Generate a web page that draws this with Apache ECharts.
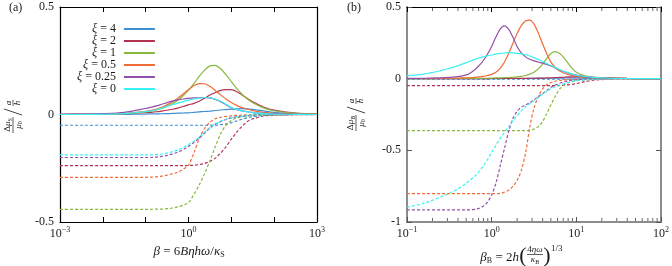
<!DOCTYPE html>
<html><head><meta charset="utf-8">
<script src="https://cdn.jsdelivr.net/npm/echarts@6/dist/echarts.min.js"></script>
<style>html,body{margin:0;padding:0;background:#fff}#c{width:672px;height:266px}</style>
</head><body><div id="c"></div>
<script>
// ---- legend / categories ----
const xiNames = ['ξ = 4', 'ξ = 2', 'ξ = 1', 'ξ = 0.5', 'ξ = 0.25', 'ξ = 0'];
const xiColors = ['#3f90d3', '#b3324f', '#88b83f', '#ef6c38', '#9350a9', '#38f2f2'];

// ---- panel (a): beta values ----
const betaS = [0.001,0.003162,0.01,0.03162,0.1,0.1334,0.1778,0.2371,0.3162,0.4217,0.5623,0.7499,1,1.334,1.778,2.371,3.162,4.217,5.623,7.499,10,13.34,17.78,23.71,31.62,56.23,100,316.2,1000];
// solid curves (a)
const aSolid_xi4   = [0.0001,0.0002,0.0003,0.0006,0.002,0.0025,0.003,0.0035,0.004,0.005,0.006,0.007,0.008,0.01,0.012,0.014,0.016,0.0185,0.021,0.023,0.025,0.0265,0.027,0.0265,0.024,0.017,0.01,0.003,0.001];
const aSolid_xi2   = [0.0003,0.0006,0.0015,0.0035,0.0083,0.0103,0.0128,0.016,0.0197,0.0245,0.03,0.037,0.045,0.052,0.062,0.076,0.091,0.102,0.112,0.116,0.1157,0.106,0.091,0.074,0.059,0.035,0.02,0.0063,0.002];
const aSolid_xi1   = [0.0001,0.0004,0.0012,0.0038,0.012,0.0161,0.0215,0.0286,0.038,0.0504,0.0666,0.0874,0.113,0.1437,0.177,0.2066,0.226,0.2288,0.213,0.1856,0.153,0.1213,0.094,0.0718,0.055,0.031,0.0175,0.0055,0.0017];
const aSolid_xi05  = [0.0001,0.0005,0.0015,0.0046,0.0145,0.0193,0.0256,0.034,0.0449,0.0587,0.0757,0.0955,0.116,0.134,0.144,0.143,0.131,0.112,0.0914,0.072,0.0557,0.0424,0.032,0.0244,0.0183,0.0103,0.0058,0.0018,0.0006];
const aSolid_xi025 = [0.001,0.002,0.004,0.01,0.028,0.034,0.04,0.0475,0.055,0.062,0.068,0.072,0.075,0.077,0.078,0.0785,0.077,0.07,0.06,0.046,0.031,0.023,0.017,0.013,0.009,0.005,0.003,0.001,0];
const aSolid_xi0   = [0,0,0.001,0.004,0.013,0.017,0.022,0.03,0.038,0.046,0.053,0.06,0.066,0.072,0.076,0.079,0.078,0.072,0.062,0.048,0.032,0.024,0.017,0.012,0.009,0.005,0.002,0.001,0];
// dashed curves (a)
const aDash_xi4   = [-0.05,-0.05,-0.05,-0.05,-0.05,-0.05,-0.05,-0.05,-0.05,-0.05,-0.05,-0.05,-0.05,-0.05,-0.05,-0.05,-0.05,-0.0495,-0.047,-0.044,-0.038,-0.03,-0.022,-0.015,-0.01,-0.004,-0.002,-0.001,0];
const aDash_xi2   = [-0.238,-0.238,-0.238,-0.238,-0.238,-0.238,-0.238,-0.238,-0.238,-0.238,-0.238,-0.238,-0.237,-0.236,-0.233,-0.228,-0.218,-0.203,-0.18,-0.15,-0.115,-0.082,-0.055,-0.033,-0.02,-0.007,-0.003,-0.001,0];
const aDash_xi1   = [-0.441,-0.441,-0.441,-0.441,-0.441,-0.441,-0.44,-0.44,-0.438,-0.435,-0.43,-0.422,-0.41,-0.372,-0.328,-0.275,-0.215,-0.15,-0.09,-0.05,-0.028,-0.016,-0.011,-0.007,-0.005,-0.002,-0.001,0,0];
const aDash_xi05  = [-0.292,-0.292,-0.292,-0.292,-0.292,-0.291,-0.29,-0.287,-0.282,-0.276,-0.268,-0.255,-0.235,-0.18,-0.112,-0.065,-0.036,-0.02,-0.013,-0.009,-0.006,-0.004,-0.003,-0.002,-0.001,0,0,0,0];
const aDash_xi025 = [-0.2,-0.2,-0.2,-0.2,-0.2,-0.2,-0.198,-0.195,-0.19,-0.183,-0.175,-0.163,-0.148,-0.13,-0.11,-0.086,-0.063,-0.045,-0.033,-0.023,-0.016,-0.011,-0.007,-0.005,-0.003,-0.001,0,0,0];
const aDash_xi0   = [-0.188,-0.188,-0.188,-0.188,-0.188,-0.188,-0.186,-0.184,-0.18,-0.173,-0.165,-0.154,-0.14,-0.124,-0.105,-0.082,-0.06,-0.044,-0.032,-0.022,-0.015,-0.01,-0.007,-0.005,-0.003,-0.001,0,0,0];

// ---- panel (b): beta_B values ----
const betaB = [0.1,0.1585,0.2512,0.3162,0.3981,0.5012,0.5623,0.631,0.7079,0.7943,0.8913,1,1.122,1.259,1.413,1.585,1.778,1.995,2.239,2.512,2.818,3.162,3.548,3.981,4.467,5.012,5.623,6.31,7.079,7.943,8.913,10,12.59,15.85,25.12,39.81,100];
// solid curves (b)
const bSolid_xi4   = [0,0,0,0,0,0,0,0,0,0,0,0,0,0,0.001,0.001,0.001,0.001,0.001,0.001,0.002,0.002,0.002,0.002,0.003,0.003,0.003,0.004,0.004,0.005,0.005,0.006,0.006,0.006,0.004,0.002,0];
const bSolid_xi2   = [0,0,0,0,0,0,0,0,0,0,0,0.001,0.001,0.001,0.001,0.001,0.002,0.002,0.002,0.002,0.003,0.003,0.004,0.004,0.005,0.006,0.007,0.009,0.01,0.012,0.013,0.014,0.013,0.01,0.005,0.002,0];
const bSolid_xi1   = [0,0,0.001,0.001,0.001,0.002,0.002,0.002,0.002,0.003,0.003,0.004,0.005,0.006,0.007,0.008,0.01,0.012,0.016,0.022,0.032,0.045,0.068,0.1,0.14,0.175,0.188,0.178,0.148,0.11,0.072,0.045,0.02,0.01,0.003,0.001,0];
const bSolid_xi05  = [0.001,0.001,0.002,0.003,0.004,0.006,0.007,0.009,0.012,0.016,0.022,0.03,0.045,0.072,0.115,0.175,0.245,0.315,0.37,0.402,0.408,0.38,0.32,0.245,0.175,0.115,0.078,0.055,0.04,0.03,0.023,0.018,0.01,0.006,0.002,0.001,0];
const bSolid_xi025 = [0.002,0.003,0.006,0.009,0.014,0.026,0.04,0.062,0.09,0.125,0.17,0.225,0.29,0.345,0.368,0.345,0.29,0.225,0.18,0.152,0.135,0.124,0.116,0.108,0.099,0.088,0.075,0.062,0.05,0.04,0.032,0.025,0.014,0.008,0.003,0.001,0];
const bSolid_xi0   = [0.021,0.032,0.056,0.072,0.09,0.112,0.123,0.135,0.144,0.152,0.159,0.165,0.171,0.176,0.179,0.181,0.18,0.177,0.173,0.167,0.158,0.147,0.134,0.12,0.106,0.092,0.078,0.064,0.052,0.042,0.032,0.024,0.015,0.009,0.003,0.001,0];
// dashed curves (b)
const bDash_xi4   = [-0.004,-0.004,-0.004,-0.004,-0.004,-0.004,-0.004,-0.004,-0.004,-0.004,-0.004,-0.004,-0.004,-0.004,-0.004,-0.004,-0.004,-0.004,-0.004,-0.004,-0.004,-0.004,-0.004,-0.004,-0.004,-0.004,-0.004,-0.004,-0.004,-0.004,-0.004,-0.003,-0.002,-0.001,0,0,0];
const bDash_xi2   = [-0.049,-0.049,-0.049,-0.049,-0.049,-0.049,-0.049,-0.049,-0.049,-0.049,-0.049,-0.049,-0.049,-0.049,-0.049,-0.049,-0.049,-0.049,-0.049,-0.049,-0.049,-0.049,-0.049,-0.049,-0.049,-0.049,-0.049,-0.048,-0.046,-0.043,-0.039,-0.034,-0.021,-0.011,-0.003,-0.001,0];
const bDash_xi1   = [-0.363,-0.363,-0.363,-0.363,-0.363,-0.363,-0.363,-0.363,-0.363,-0.363,-0.363,-0.363,-0.363,-0.363,-0.363,-0.363,-0.363,-0.363,-0.363,-0.363,-0.36,-0.352,-0.335,-0.3,-0.245,-0.182,-0.125,-0.075,-0.047,-0.03,-0.02,-0.013,-0.006,-0.003,-0.001,0,0];
const bDash_xi05  = [-0.802,-0.802,-0.802,-0.802,-0.802,-0.802,-0.802,-0.802,-0.802,-0.802,-0.802,-0.802,-0.802,-0.8,-0.792,-0.778,-0.752,-0.71,-0.64,-0.52,-0.34,-0.205,-0.126,-0.072,-0.042,-0.027,-0.018,-0.012,-0.009,-0.006,-0.005,-0.003,-0.002,-0.001,0,0,0];
const bDash_xi025 = [-0.916,-0.916,-0.916,-0.916,-0.916,-0.916,-0.915,-0.912,-0.905,-0.89,-0.862,-0.81,-0.73,-0.61,-0.49,-0.37,-0.28,-0.228,-0.2,-0.183,-0.168,-0.148,-0.126,-0.105,-0.083,-0.06,-0.045,-0.032,-0.023,-0.016,-0.011,-0.008,-0.004,-0.002,-0.001,0,0];
const bDash_xi0   = [-0.897,-0.87,-0.825,-0.8,-0.77,-0.73,-0.706,-0.68,-0.648,-0.61,-0.565,-0.515,-0.465,-0.418,-0.375,-0.335,-0.295,-0.258,-0.225,-0.196,-0.175,-0.155,-0.132,-0.108,-0.088,-0.07,-0.056,-0.045,-0.035,-0.027,-0.02,-0.015,-0.008,-0.004,-0.001,0,0];

// ---- tick values ----
const decadeLabelsA = [0.001, 1, 1000];
const minorTicksB = [0.2,0.3,0.4,0.5,0.6,0.7,0.8,0.9,2,3,4,5,6,7,8,9,20,30,40,50,60,70,80,90];

const aSolid = [aSolid_xi4, aSolid_xi2, aSolid_xi1, aSolid_xi05, aSolid_xi025, aSolid_xi0];
const aDash  = [aDash_xi4, aDash_xi2, aDash_xi1, aDash_xi05, aDash_xi025, aDash_xi0];
const bSolid = [bSolid_xi4, bSolid_xi2, bSolid_xi1, bSolid_xi05, bSolid_xi025, bSolid_xi0];
const bDash  = [bDash_xi4, bDash_xi2, bDash_xi1, bDash_xi05, bDash_xi025, bDash_xi0];

const SERIF = '"Liberation Serif", "DejaVu Serif", serif';
const TXT = '#1a1a1a';

function expLabel(v) {
  const e = Math.round(Math.log10(v));
  return '{b|10}{s|' + String(e).replace('-', '−') + '}';
}
const labelRich = {
  b: {fontFamily: SERIF, fontSize: 12, color: TXT},
  s: {fontFamily: SERIF, fontSize: 8, color: TXT, padding: [0, 0, 7, 0]}
};

function line(name, xs, ys, color, dashed, ai) {
  return {
    type: 'line', name, xAxisIndex: ai, yAxisIndex: ai,
    data: xs.map((x, i) => [x, ys[i]]),
    symbol: 'none', showSymbol: false, smooth: 0.3, silent: true,
    lineStyle: {color, width: 1.2, type: dashed ? [3, 2] : 'solid'},
    itemStyle: {color}, z: dashed ? 2 : 3
  };
}

const series = [];
for (let k = 0; k < 6; k++) series.push(line(xiNames[k], betaS, aDash[k], xiColors[k], true, 0));
for (let k = 0; k < 6; k++) series.push(line(xiNames[k], betaB, bDash[k], xiColors[k], true, 2));
for (let k = 0; k < 6; k++) series.push(line(xiNames[k], betaS, aSolid[k], xiColors[k], false, 0));
for (let k = 0; k < 6; k++) series.push(line(xiNames[k], betaB, bSolid[k], xiColors[k], false, 2));

// minor log ticks for panel (b)
series.push({
  type: 'custom', xAxisIndex: 2, yAxisIndex: 2, silent: true, clip: false, z: 5,
  data: minorTicksB.map(v => [v, 0]),
  encode: {x: 0, y: 1},
  renderItem(params, api) {
    const v = api.value(0);
    const b = api.coord([v, -1]);
    const t = api.coord([v, 0.5]);
    return {type: 'group', children: [
      {type: 'line', shape: {x1: b[0], y1: b[1] - 1, x2: b[0], y2: b[1] - 4}, style: {stroke: '#666', lineWidth: 1}},
      {type: 'line', shape: {x1: t[0], y1: t[1] + 1, x2: t[0], y2: t[1] + 4}, style: {stroke: '#666', lineWidth: 1}}
    ]};
  }
});

const gridA = {left: 60, top: 7, width: 257, height: 215};
const gridB = {left: 407, top: 7, width: 257, height: 215};

function xLog(gi, min, max, pos, showLabels, lineColor, lw, labelFilter) {
  return {
    type: 'log', logBase: 10, gridIndex: gi, min, max, interval: 1, position: pos,
    axisLine: {show: true, onZero: false, lineStyle: {color: lineColor, width: lw}},
    axisTick: {show: true, inside: true, length: 5, lineStyle: {color: lineColor === '#000' ? '#000' : '#555', width: 1}},
    splitLine: {show: false},
    axisLabel: {show: showLabels, margin: 4, formatter: v => labelFilter(v) ? expLabel(v) : '', rich: labelRich, showMinLabel: true, showMaxLabel: true}
  };
}
function yVal(gi, min, max, pos, showLabels, lineColor, lw) {
  return {
    type: 'value', gridIndex: gi, min, max, interval: 0.5, position: pos,
    axisLine: {show: true, onZero: false, lineStyle: {color: lineColor, width: lw}},
    axisTick: {show: true, inside: true, length: 5, lineStyle: {color: lineColor === '#000' ? '#000' : '#555', width: 1}},
    splitLine: {show: false},
    axisLabel: {show: showLabels, margin: 6, fontFamily: SERIF, fontSize: 12, color: TXT,
      formatter: v => String(v)}
  };
}

const isA = v => decadeLabelsA.some(d => Math.abs(Math.log10(v) - Math.log10(d)) < 1e-6);

// rotated y-axis label as stacked fractions
function yLabel(cx, cy, sub) {
  const rich = {
    n: {fontFamily: SERIF, fontSize: 9, fontStyle: 'italic', fill: TXT},
    u: {fontFamily: SERIF, fontSize: 9, fill: TXT},
    s: {fontFamily: SERIF, fontSize: 6, fill: TXT, padding: [4, 0, 0, 0]}
  };
  return {
    type: 'group', x: cx, y: cy, rotation: Math.PI / 2, silent: true,
    children: [
      {type: 'text', x: -11, y: -5, style: {text: '{u|Δ}{n|μ}{s|' + sub + '}', rich, align: 'center', verticalAlign: 'middle'}},
      {type: 'line', shape: {x1: -19, y1: 0, x2: -3, y2: 0}, style: {stroke: TXT, lineWidth: 0.7}},
      {type: 'text', x: -11, y: 5.5, style: {text: '{n|μ}{s|0}', rich, align: 'center', verticalAlign: 'middle'}},
      {type: 'line', shape: {x1: -1, y1: 9, x2: 5, y2: -9}, style: {stroke: TXT, lineWidth: 0.8}},
      {type: 'text', x: 11, y: -4.5, style: {text: '{n|a}', rich, align: 'center', verticalAlign: 'middle'}},
      {type: 'line', shape: {x1: 8, y1: 0, x2: 14, y2: 0}, style: {stroke: TXT, lineWidth: 0.7}},
      {type: 'text', x: 11, y: 5, style: {text: '{n|h}', rich, align: 'center', verticalAlign: 'middle'}}
    ]
  };
}

const mathRich = {
  r: {fontFamily: SERIF, fontSize: 13, fill: TXT},
  i: {fontFamily: SERIF, fontSize: 13, fontStyle: 'italic', fill: TXT},
  s: {fontFamily: SERIF, fontSize: 8, fill: TXT, padding: [6, 0, 0, 0]},
  fi: {fontFamily: SERIF, fontSize: 9, fontStyle: 'italic', fill: TXT},
  fr: {fontFamily: SERIF, fontSize: 9, fill: TXT},
  fs: {fontFamily: SERIF, fontSize: 6, fill: TXT, padding: [4, 0, 0, 0]}
};

const graphic = [
  {type: 'text', x: 9, y: 2, style: {text: '(a)', fontFamily: SERIF, fontSize: 12, fill: TXT}},
  {type: 'text', x: 347, y: 2, style: {text: '(b)', fontFamily: SERIF, fontSize: 12, fill: TXT}},
  yLabel(13, 114, 'S'),
  yLabel(356, 112, 'B'),
  {type: 'text', x: 189, y: 252, style: {text: '{i|β}{r| = 6}{i|Bηhω}{r|/}{i|κ}{s|S}', rich: mathRich, align: 'center', verticalAlign: 'middle'}},
  {type: 'text', x: 519, y: 258, style: {text: '{i|β}{s|B}{r| = 2}{i|h}', rich: mathRich, align: 'right', verticalAlign: 'middle'}},
  {type: 'text', x: 523, y: 256, style: {text: '(', fontFamily: SERIF, fontSize: 22, fill: TXT, align: 'center', verticalAlign: 'middle'}},
  {type: 'text', x: 535, y: 250, style: {text: '{fr|4}{fi|ηω}', rich: mathRich, align: 'center', verticalAlign: 'middle'}},
  {type: 'line', shape: {x1: 527, y1: 254.5, x2: 543, y2: 254.5}, style: {stroke: TXT, lineWidth: 0.7}},
  {type: 'text', x: 535, y: 260, style: {text: '{fi|κ}{fs|B}', rich: mathRich, align: 'center', verticalAlign: 'middle'}},
  {type: 'text', x: 547, y: 256, style: {text: ')', fontFamily: SERIF, fontSize: 22, fill: TXT, align: 'center', verticalAlign: 'middle'}},
  {type: 'text', x: 551, y: 249, style: {text: '1/3', fontFamily: SERIF, fontSize: 9, fill: TXT, align: 'left', verticalAlign: 'middle'}}
];

const chart = echarts.init(document.getElementById('c'), null, {renderer: 'canvas'});
chart.setOption({
  animation: false,
  backgroundColor: '#fff',
  grid: [gridA, gridB],
  xAxis: [
    xLog(0, 0.001, 1000, 'bottom', true, '#000', 1.2, isA),
    xLog(0, 0.001, 1000, 'top', false, '#000', 1.2, () => false),
    xLog(1, 0.1, 100, 'bottom', true, '#8c8c8c', 2, () => true),
    xLog(1, 0.1, 100, 'top', false, '#000', 1.2, () => false)
  ],
  yAxis: [
    yVal(0, -0.5, 0.5, 'left', true, '#000', 1.2),
    yVal(0, -0.5, 0.5, 'right', false, '#000', 1.2),
    yVal(1, -1, 0.5, 'left', true, '#8c8c8c', 2),
    yVal(1, -1, 0.5, 'right', false, '#8c8c8c', 2)
  ],
  legend: {
    data: xiNames, orient: 'vertical', align: 'right', left: 72, top: 18,
    itemWidth: 31, itemHeight: 11.6, itemGap: 0, selectedMode: false,
    icon: 'path://M0,0L31,0L31,2L0,2Z',
    formatter: n => '{i|ξ}' + n.slice(1),
    textStyle: {fontFamily: SERIF, fontSize: 12, color: TXT, lineHeight: 11, padding: [0, 3, 0, 0],
      rich: {i: {fontFamily: SERIF, fontSize: 12, fontStyle: 'italic', color: TXT, lineHeight: 11}}}
  },
  series,
  graphic
});
</script>
</body></html>
